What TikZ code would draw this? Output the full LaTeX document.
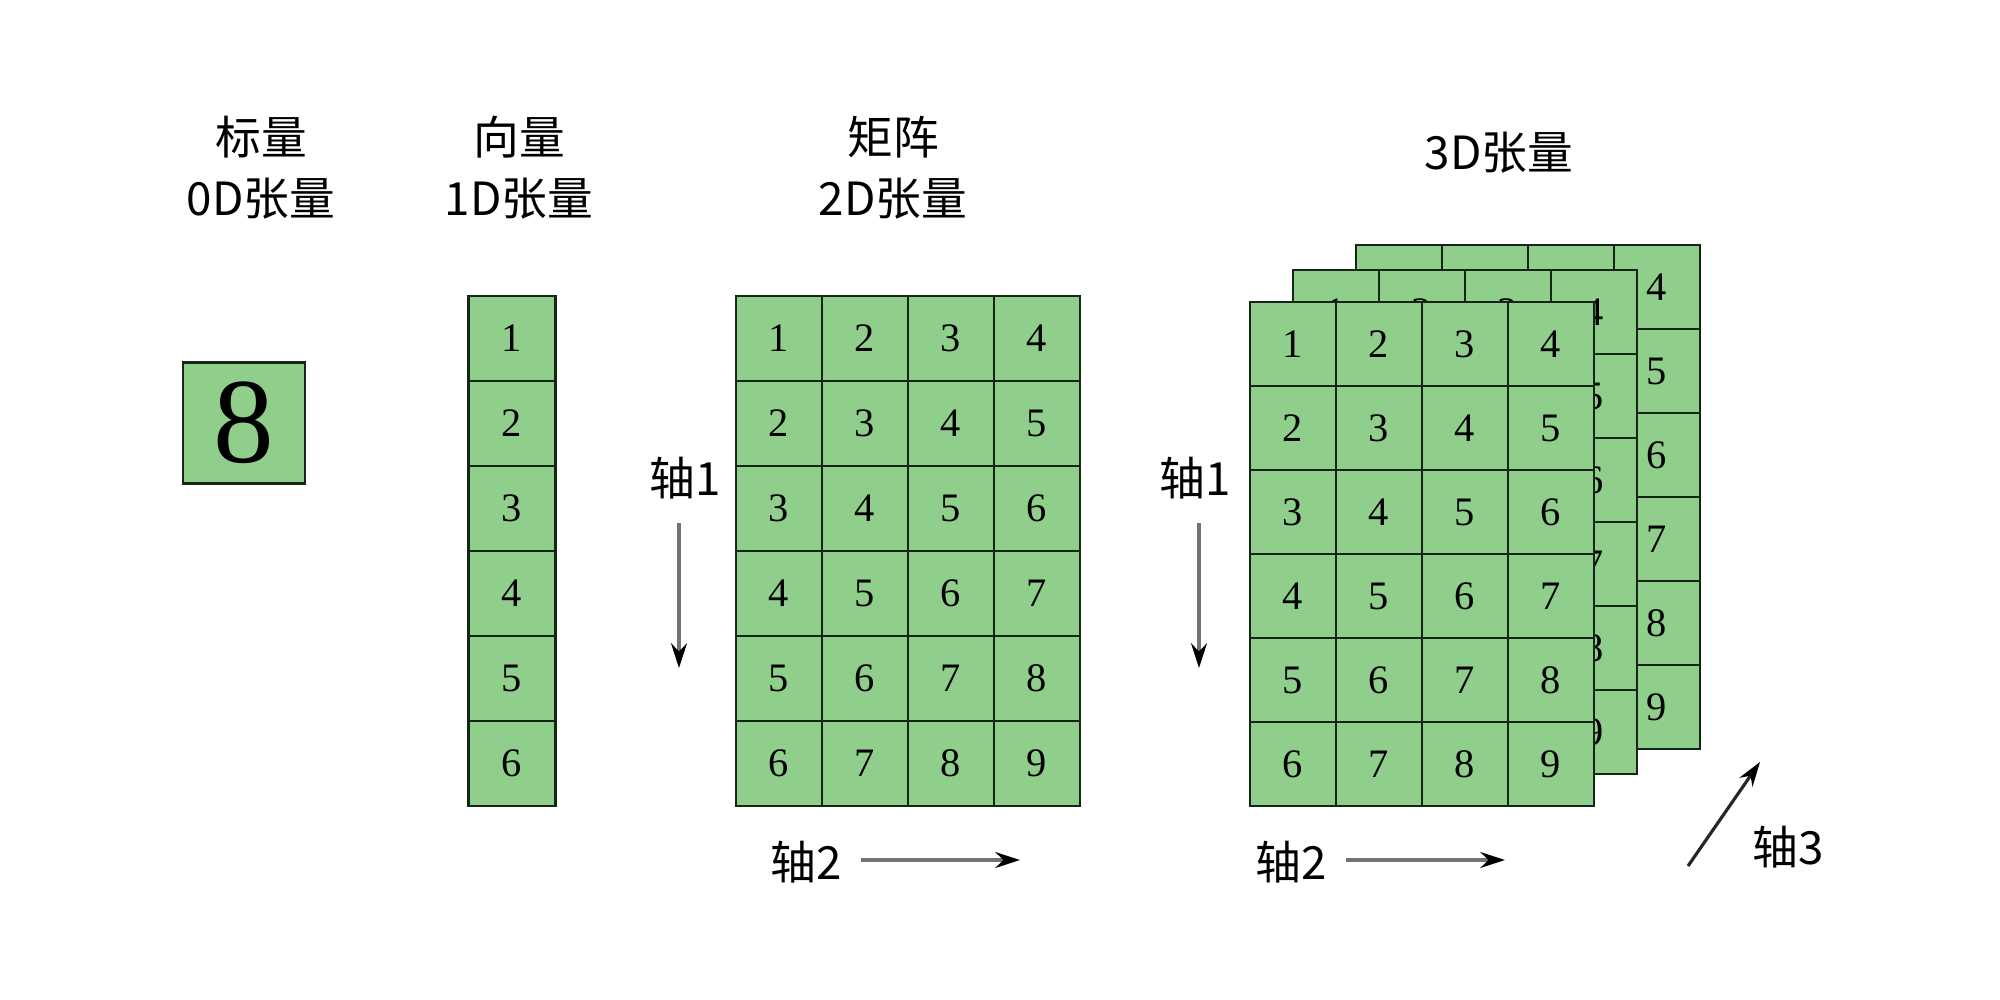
\documentclass[tikz,border=0pt]{standalone}
\usepackage{fontspec}
\setmainfont{Liberation Serif}
\newfontfamily\cjk{Noto Sans CJK SC}
\usetikzlibrary{positioning,arrows.meta}

\definecolor{cell_green}{RGB}{144,206,140}
\definecolor{cell_line}{RGB}{22,38,22}

\tikzset{
  cell/.style={draw=cell_line, fill=cell_green, line width=0.8pt, minimum width=0.86cm, minimum height=0.85cm, inner sep=0pt, font=\fontsize{11.5}{14}\selectfont},
  title/.style={font=\cjk\fontsize{13}{17.4}\selectfont, align=center},
  axis_arrow/.style={draw=black!55, line width=0.9pt, -{Stealth[black, length=7pt, width=4.5pt]}}
}

\begin{document}
\begin{tikzpicture}[x=0.01cm, y=-0.01cm]
\useasboundingbox (0,0) rectangle (2000,1000);

% titles
\node [title] (t_scalar) at (261,168) {标量\\0D张量};
\node [title] (t_vector) at (519,168) {向量\\1D张量};
\node [title] (t_matrix) at (893,168) {矩阵\\2D张量};
\node [title] (t_tensor) at (1499,153) {3D张量};

% scalar
\node [cell, minimum width=1.22cm, minimum height=1.21cm, font=\fontsize{34.5}{40}\selectfont] (scalar) at (244,423) {8};

% vector
\foreach \r in {1,...,6}
  \node [cell, minimum width=0.87cm] (vec_\r) at (512,{253.5+85*\r}) {\r};

% matrix
\foreach \r in {1,...,6}
  \foreach \c in {1,...,4} {
    \pgfmathtruncatemacro\val{\r+\c-1}
    \node [cell] (mat_\r_\c) at ({693+86*\c},{253.5+85*\r}) {\val};
  }

% 3D tensor, back to front
\foreach \layer/\ox/\oy in {back/1356/245, mid/1293/270, front/1250/302}
  \foreach \r in {1,...,6}
    \foreach \c in {1,...,4} {
      \pgfmathtruncatemacro\val{\r+\c-1}
      \node [cell, minimum height=0.84cm] (\layer_\r_\c) at ({\ox-43+86*\c},{\oy-42+84*\r}) {\val};
    }

% axes of the matrix
\node [title] (m_ax1) at (685,478) {轴1};
\coordinate (m_ax1_a) at (679,523);
\coordinate (m_ax1_b) at (679,668);
\draw [axis_arrow] (m_ax1_a) -- (m_ax1_b);
\node [title] (m_ax2) at (806,862) {轴2};
\coordinate (m_ax2_a) at (861,860);
\coordinate (m_ax2_b) at (1020,860);
\draw [axis_arrow] (m_ax2_a) -- (m_ax2_b);

% axes of the 3D tensor
\node [title] (s_ax1) at (1195,478) {轴1};
\coordinate (s_ax1_a) at (1199,523);
\coordinate (s_ax1_b) at (1199,668);
\draw [axis_arrow] (s_ax1_a) -- (s_ax1_b);
\node [title] (s_ax2) at (1291,862) {轴2};
\coordinate (s_ax2_a) at (1346,860);
\coordinate (s_ax2_b) at (1505,860);
\draw [axis_arrow] (s_ax2_a) -- (s_ax2_b);
\node [title] (s_ax3) at (1788,847) {轴3};
\coordinate (s_ax3_a) at (1688,866);
\coordinate (s_ax3_b) at (1760,762);
\draw [axis_arrow, draw=black!85] (s_ax3_a) -- (s_ax3_b);

\end{tikzpicture}
\end{document}
